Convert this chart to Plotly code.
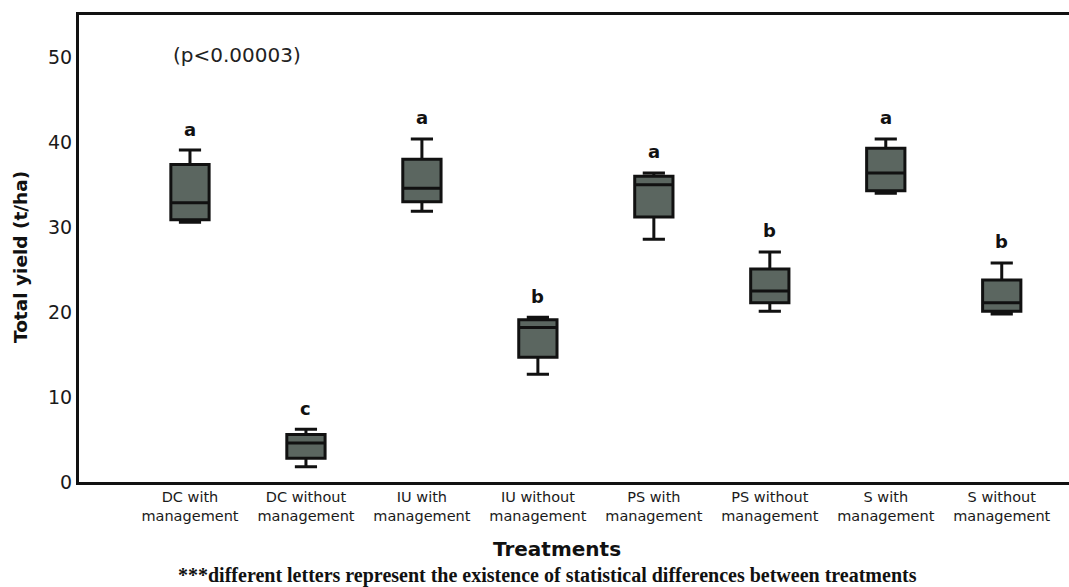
import plotly.graph_objects as go

# Treatments and their box statistics (t/ha)
treatments = [
    "DC with<br>management", "DC without<br>management",
    "IU with<br>management", "IU without<br>management",
    "PS with<br>management", "PS without<br>management",
    "S with<br>management", "S without<br>management",
]
lower_whisker = [30.6, 1.8, 31.9, 12.7, 28.6, 20.1, 34.0, 19.8]
q1_values = [30.9, 2.8, 33.0, 14.7, 31.2, 21.1, 34.3, 20.1]
median_values = [32.9, 4.6, 34.6, 18.2, 35.0, 22.5, 36.4, 21.1]
q3_values = [37.4, 5.6, 38.0, 19.1, 36.0, 25.1, 39.3, 23.8]
upper_whisker = [39.1, 6.2, 40.4, 19.4, 36.4, 27.1, 40.4, 25.8]
group_letters = ["a", "c", "a", "b", "a", "b", "a", "b"]

y_ticks = [0, 10, 20, 30, 40, 50]

W, H = 1069, 587
ML, MR, MT, MB = 79, 0, 15, 105
PW, PH = W - ML - MR, H - MT - MB


def px_x(px):
    return (px - ML) / PW


def px_y(py):
    return (H - MB - py) / PH


fig = go.Figure()
fig.add_trace(go.Box(
    x=treatments,
    q1=q1_values,
    median=median_values,
    q3=q3_values,
    lowerfence=lower_whisker,
    upperfence=upper_whisker,
    boxpoints=False,
    fillcolor="#5B6660",
    line=dict(color="#111111", width=3),
    width=0.33,
    whiskerwidth=0.58,
    showlegend=False,
    hoverinfo="skip",
))

annotations = []
for cat, top, letter in zip(treatments, upper_whisker, group_letters):
    annotations.append(dict(
        x=cat, y=top, xref="x", yref="y", text="<b>" + letter + "</b>",
        showarrow=False, yshift=21, yanchor="middle",
        font=dict(family="DejaVu Sans", size=18, color="#111111"),
    ))

annotations += [
    dict(x=px_x(237), y=px_y(55), xref="paper", yref="paper",
         text="(p<0.00003)", showarrow=False, xanchor="center", yanchor="middle",
         font=dict(family="DejaVu Sans", size=20, color="#222222")),
    dict(x=px_x(20), y=px_y(257), xref="paper", yref="paper",
         text="<b>Total yield (t/ha)</b>", showarrow=False, textangle=-90,
         xanchor="center", yanchor="middle",
         font=dict(family="DejaVu Sans", size=18.5, color="#111111")),
    dict(x=px_x(557), y=px_y(549), xref="paper", yref="paper",
         text="<b>Treatments</b>", showarrow=False, xanchor="center", yanchor="middle",
         font=dict(family="DejaVu Sans", size=20, color="#111111")),
    dict(x=px_x(547), y=px_y(575), xref="paper", yref="paper",
         text="<b>***different letters represent the existence of statistical differences between treatments</b>",
         showarrow=False, xanchor="center", yanchor="middle",
         font=dict(family="Liberation Serif", size=20, color="#111111")),
]

fig.update_layout(
    width=W, height=H,
    margin=dict(l=ML, r=MR, t=MT, b=MB, pad=0),
    paper_bgcolor="white", plot_bgcolor="white",
    annotations=annotations,
    xaxis=dict(
        type="category", range=[-0.957, 7.58],
        showline=True, linecolor="#111111", linewidth=3, mirror=True,
        showgrid=False, zeroline=False, ticks="",
        tickfont=dict(family="DejaVu Sans", size=14.5, color="#1a1a1a"),
    ),
    yaxis=dict(
        range=[0, 55], tickvals=y_ticks,
        showline=True, linecolor="#111111", linewidth=3,
        showgrid=False, zeroline=False, ticks="",
        tickfont=dict(family="DejaVu Sans", size=19, color="#1a1a1a"),
    ),
)

fig.write_html("out.html")
